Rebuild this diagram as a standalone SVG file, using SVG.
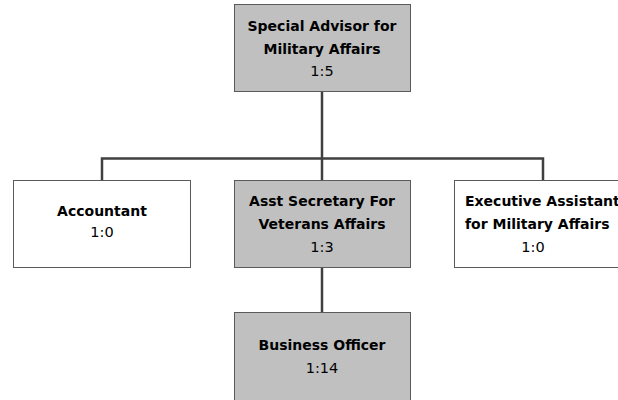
<svg xmlns="http://www.w3.org/2000/svg" width="618" height="400" viewBox="0 0 618 400">
  <style>
    .box { stroke: #5a5a5a; stroke-width: 1; }
    .filled { fill: #c0c0c0; }
    .plain { fill: #ffffff; }
    .title { font-family: "DejaVu Sans", Verdana, sans-serif; font-size: 14px; font-weight: bold; fill: #000; text-anchor: middle; }
    .ratio { font-family: "DejaVu Sans", Verdana, sans-serif; font-size: 14.5px; fill: #000; text-anchor: middle; }
    .link { stroke: #404040; stroke-width: 2.5; fill: none; }
  </style>
  <rect width="618" height="400" fill="#ffffff"/>

  <g id="connectors">
    <path class="link" d="M322 91 V312"/>
    <path class="link" d="M102 181 V158.5 H543 V181"/>
  </g>

  <g id="special-advisor">
    <rect class="box filled" x="234.5" y="4.5" width="176" height="87"/>
    <text class="title" x="322" y="31">Special Advisor for</text>
    <text class="title" x="322" y="54">Military Affairs</text>
    <text class="ratio" x="322" y="76">1:5</text>
  </g>

  <g id="accountant">
    <rect class="box plain" x="13.5" y="180.5" width="177" height="87"/>
    <text class="title" x="102" y="216">Accountant</text>
    <text class="ratio" x="102" y="237">1:0</text>
  </g>

  <g id="asst-secretary">
    <rect class="box filled" x="234.5" y="180.5" width="176" height="87"/>
    <text class="title" x="322" y="206">Asst Secretary For</text>
    <text class="title" x="322" y="229">Veterans Affairs</text>
    <text class="ratio" x="322" y="252">1:3</text>
  </g>

  <g id="executive-assistant">
    <rect class="box plain" x="454.5" y="180.5" width="176" height="87"/>
    <text class="title" x="465" y="206" style="text-anchor:start">Executive Assistant</text>
    <text class="title" x="465" y="229" style="text-anchor:start">for Military Affairs</text>
    <text class="ratio" x="533" y="252">1:0</text>
  </g>

  <g id="business-officer">
    <rect class="box filled" x="234.5" y="312.5" width="176" height="92"/>
    <text class="title" x="322" y="350">Business Officer</text>
    <text class="ratio" x="322" y="373">1:14</text>
  </g>
</svg>
